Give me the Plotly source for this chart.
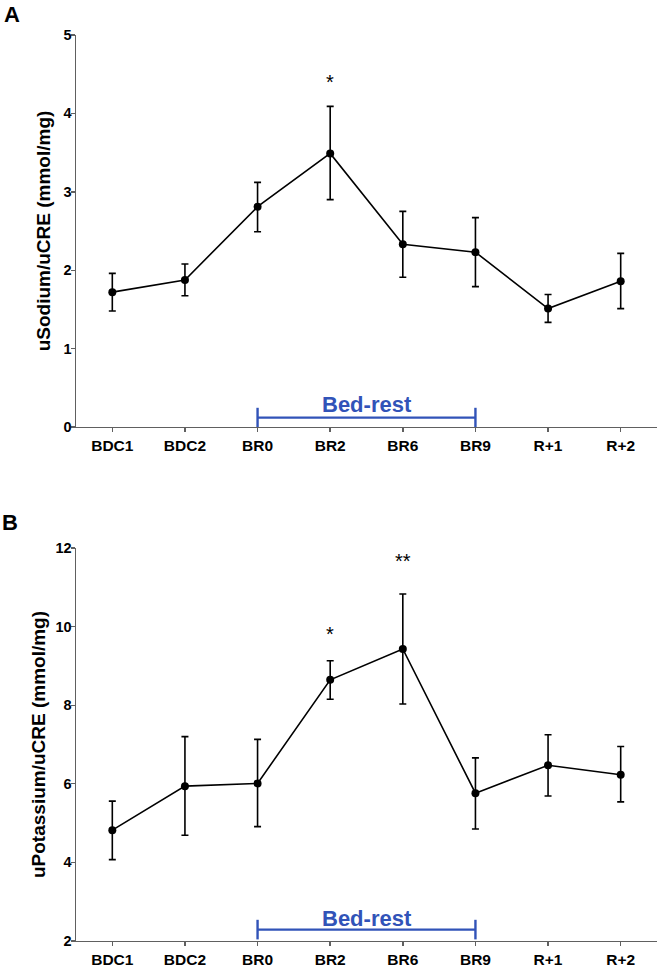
import plotly.graph_objects as go

categories = ["BDC1", "BDC2", "BR0", "BR2", "BR6", "BR9", "R+1", "R+2"]

sodium_mean = [1.72, 1.875, 2.81, 3.49, 2.33, 2.23, 1.51, 1.86]
sodium_upper = [1.96, 2.08, 3.12, 4.09, 2.75, 2.67, 1.69, 2.215]
sodium_lower = [1.48, 1.675, 2.49, 2.90, 1.91, 1.79, 1.335, 1.51]

potassium_mean = [4.82, 5.94, 6.01, 8.645, 9.43, 5.76, 6.47, 6.23]
potassium_upper = [5.56, 7.20, 7.13, 9.13, 10.83, 6.66, 7.25, 6.95]
potassium_lower = [4.07, 4.69, 4.91, 8.15, 8.03, 4.85, 5.69, 5.54]

sodium_sig = {"BR2": ("*", 4.40)}
potassium_sig = {"BR2": ("*", 9.80), "BR6": ("**", 11.66)}

bedrest_span = ["BR0", "BR9"]
bedrest_y_top = 0.12
bedrest_text_y_top = 0.29
bedrest_y_bot = 2.29
bedrest_text_y_bot = 2.58

BLUE = "#3153b8"
AXIS = "#606060"
FONT = "Liberation Sans, Arial, sans-serif"

fig = go.Figure()

def add_panel(mean, upper, lower, xa, ya):
    fig.add_trace(go.Scatter(
        x=categories, y=mean, mode="lines+markers",
        line=dict(color="black", width=1.6),
        marker=dict(color="black", size=8),
        error_y=dict(type="data", symmetric=False,
                     array=[u - m for u, m in zip(upper, mean)],
                     arrayminus=[m - l for m, l in zip(mean, lower)],
                     color="black", thickness=1.6, width=3.5),
        xaxis=xa, yaxis=ya, showlegend=False, cliponaxis=False))

def add_bracket(y, ty, xa, ya):
    fig.add_trace(go.Scatter(
        x=bedrest_span, y=[y, y], mode="lines+markers",
        line=dict(color=BLUE, width=2.2),
        marker=dict(symbol="line-ns", size=14, line=dict(color=BLUE, width=2.4)),
        xaxis=xa, yaxis=ya, showlegend=False, cliponaxis=False))
    fig.add_annotation(x=3.5, y=ty, xref=xa, yref=ya, text="<b>Bed-rest</b>",
                       showarrow=False, font=dict(family=FONT, size=22, color=BLUE))

add_panel(sodium_mean, sodium_upper, sodium_lower, "x", "y")
add_panel(potassium_mean, potassium_upper, potassium_lower, "x2", "y2")
add_bracket(bedrest_y_top, bedrest_text_y_top, "x", "y")
add_bracket(bedrest_y_bot, bedrest_text_y_bot, "x2", "y2")

for cat, (txt, yv) in sodium_sig.items():
    fig.add_annotation(x=cat, y=yv, xref="x", yref="y", text=txt, showarrow=False,
                       font=dict(family=FONT, size=20, color="black"))
for cat, (txt, yv) in potassium_sig.items():
    fig.add_annotation(x=cat, y=yv, xref="x2", yref="y2", text=txt, showarrow=False,
                       font=dict(family=FONT, size=20, color="black"))

W, H = 660, 968
fig.add_annotation(x=12 / W, y=1 - 15 / H, xref="paper", yref="paper", text="<b>A</b>",
                   showarrow=False, xanchor="center", yanchor="middle",
                   font=dict(family=FONT, size=22, color="black"))
fig.add_annotation(x=10 / W, y=1 - 522 / H, xref="paper", yref="paper", text="<b>B</b>",
                   showarrow=False, xanchor="center", yanchor="middle",
                   font=dict(family=FONT, size=22, color="black"))

xdom = [76 / W, 657 / W]
common_x = dict(type="category", categoryorder="array", categoryarray=categories,
                range=[-0.5, 7.5], showline=True, linecolor=AXIS, linewidth=1.4,
                ticks="outside", ticklen=4, tickwidth=1.4, tickcolor=AXIS,
                showgrid=False, zeroline=False, automargin=False,
                tickfont=dict(family=FONT, size=15.5, color="black"),
                tickprefix="<b>", ticksuffix="</b>")
common_y = dict(showline=True, linecolor=AXIS, linewidth=1.4,
                ticks="outside", ticklen=4, tickwidth=1.4, tickcolor=AXIS,
                showgrid=False, zeroline=False, automargin=False,
                ticklabelstandoff=-4,
                tickfont=dict(family=FONT, size=14.5, color="black"))

fig.update_layout(
    width=W, height=H,
    margin=dict(l=0, r=0, t=0, b=0),
    paper_bgcolor="white", plot_bgcolor="white",
    font=dict(family=FONT),
    hovermode=False,
    xaxis=dict(common_x, domain=xdom, anchor="y"),
    yaxis=dict(common_y, domain=[1 - 427 / H, 1 - 35 / H], anchor="x",
               range=[0, 5], tickvals=[0, 1, 2, 3, 4, 5],
               ticktext=["<b>%d</b>" % v for v in [0, 1, 2, 3, 4, 5]],
               title=dict(text="<b>uSodium/uCRE (mmol/mg)</b>", standoff=8,
                          font=dict(family=FONT, size=19, color="black"))),
    xaxis2=dict(common_x, domain=xdom, anchor="y2"),
    yaxis2=dict(common_y, domain=[1 - 941 / H, 1 - 548 / H], anchor="x2",
                range=[2, 12], tickvals=[2, 4, 6, 8, 10, 12],
                ticktext=["<b>%d</b>" % v for v in [2, 4, 6, 8, 10, 12]],
                title=dict(text="<b>uPotassium/uCRE (mmol/mg)</b>", standoff=5,
                           font=dict(family=FONT, size=19, color="black"))),
)

fig.write_html("out.html", config={"displayModeBar": False, "staticPlot": True},
               post_script="document.body.style.margin='0';document.body.style.overflow='hidden';")
